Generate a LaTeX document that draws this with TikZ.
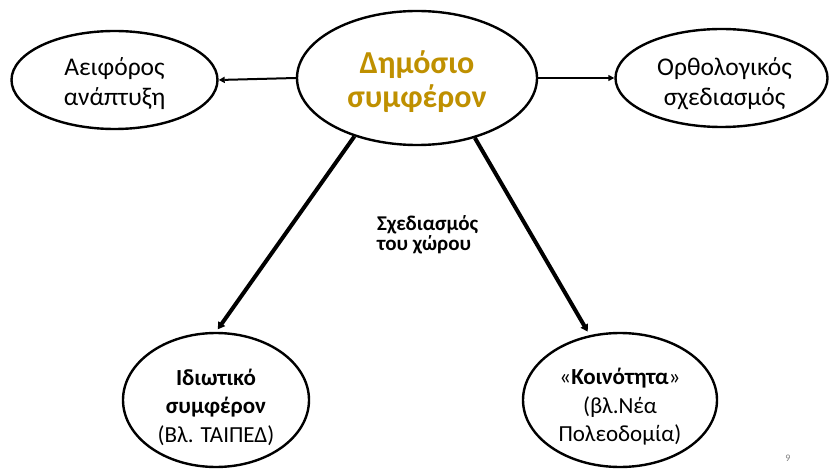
\documentclass[tikz,border=0pt]{standalone}
\usepackage{fontspec}
\setmainfont{Carlito}
\usetikzlibrary{shapes.geometric,arrows.meta}
\definecolor{gold}{HTML}{BF9000}
\begin{document}
\begin{tikzpicture}[x=1pt,y=-1pt,
  oval/.style={ellipse, draw=black, line width=2.4pt, inner sep=0pt, fill=white},
  intxt/.style={align=center, inner sep=0pt},
  thin arrow/.style={line width=2pt, -{Triangle[length=6pt,width=6pt]}},
  thick arrow/.style={line width=4pt, -{Triangle[length=7pt,width=8pt]}},
  toptxt/.style={intxt, font=\fontsize{25.5}{30}\selectfont},
  bottxt/.style={intxt, font=\fontsize{23}{28.5}\selectfont},
]
\useasboundingbox[fill=white] (0,0) rectangle (829,470);
\node[oval, minimum width=240pt, minimum height=134pt] (c) at (417,78) {};
\node[oval, minimum width=206pt, minimum height=98pt] (l) at (114.5,80) {};
\node[oval, minimum width=212pt, minimum height=98pt] (r) at (721.5,78) {};
\node[oval, minimum width=186pt, minimum height=134pt] (bl) at (216,400) {};
\node[oval, minimum width=194pt, minimum height=134pt] (br) at (620,400) {};
\node[intxt, text=gold, font=\fontsize{32}{34}\selectfont\bfseries] (ct) at ([yshift=-4pt]c.center) {Δημόσιο\\συμφέρον};
\node[toptxt] (lt) at ([yshift=-4pt]l.center) {Αειφόρος\\ανάπτυξη};
\node[toptxt] (rt) at ([xshift=3pt,yshift=-6pt]r.center) {Ορθολογικός\\σχεδιασμός};
\node[bottxt] (blt) at ([yshift=-7pt]bl.center)
  {\textbf{Ιδιωτικό}\\\textbf{συμφέρον}\\(Βλ. ΤΑΙΠΕΔ)};
\node[bottxt] (brt) at ([yshift=-7pt]br.center)
  {«\textbf{Κοινότητα}»\\(βλ.Νέα\\Πολεοδομία)};
\node[align=left, anchor=north west, inner sep=0pt,
      font=\fontsize{21}{20}\selectfont\bfseries] (lab) at (377,215) {Σχεδιασμός\\του χώρου};
\node[anchor=center, inner sep=0pt, text=gray, font=\fontsize{10}{12}\selectfont] (pg) at (788,458) {9};
\draw[thin arrow] (c.west) -- (l.east);
\draw[thin arrow] (c.east) -- (r.west);
\draw[thick arrow, shorten >=3pt] (c.223) -- (bl.north);
\draw[thick arrow, shorten >=4pt] (c.314) -- (br.115);
\end{tikzpicture}
\end{document}
